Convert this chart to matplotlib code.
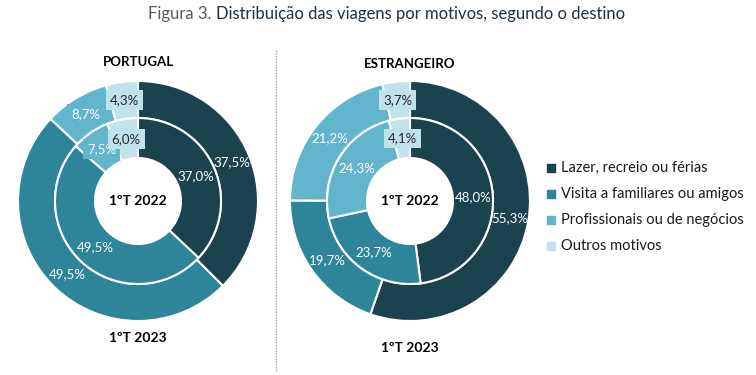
import numpy as np
import matplotlib
matplotlib.use("Agg")
import matplotlib.pyplot as plt

plt.rcParams['font.family'] = ['Lato', 'DejaVu Sans']

categorias = ["Lazer, recreio ou férias", "Visita a familiares ou amigos",
              "Profissionais ou de negócios", "Outros motivos"]
cores = ["#1b434f", "#2e8499", "#62b5cc", "#bfe2eb"]
cor_texto = ["white", "white", "white", "#262626"]

portugal_2022 = [37.0, 49.5, 7.5, 6.0]
portugal_2023 = [37.5, 49.5, 8.7, 4.3]
estrangeiro_2022 = [48.0, 23.7, 24.3, 4.1]
estrangeiro_2023 = [55.3, 19.7, 21.2, 3.7]

W, H = 756, 375
fig = plt.figure(figsize=(W / 100, H / 100), dpi=100)
ax = fig.add_axes([0, 0, 1, 1])

R_OUT, R_MID, R_IN = 120, 83, 43


def anel(vals, cx, cy, r, w):
    ax.pie(vals, radius=r, center=(cx, cy), startangle=90, counterclock=False,
           colors=cores, wedgeprops=dict(width=w, edgecolor="white", linewidth=1.5))
    fr = np.cumsum([0] + vals[:-1]) + np.array(vals) / 2
    ang = np.deg2rad(90 - fr / 100 * 360)
    rm = r - w / 2
    for v, a, c, tc in zip(vals, ang, cores, cor_texto):
        caixa = dict(boxstyle="square,pad=0.3", fc=c, ec="none") if v < 10 else None
        ax.text(cx + rm * np.cos(a), cy + rm * np.sin(a), f"{v:.1f}%".replace(".", ","),
                ha="center", va="center", fontsize=9.5, color=tc, bbox=caixa)


def donut(nome, v22, v23, cx, cy_px, y_nome, y_ano):
    cy = H - cy_px
    anel(v23, cx, cy, R_OUT, R_OUT - R_MID)
    anel(v22, cx, cy, R_MID, R_MID - R_IN)
    ax.text(cx, cy, "1ºT 2022", ha="center", va="center", fontsize=10, fontweight="bold",
            color="black")
    ax.text(cx, H - y_nome, nome, ha="center", va="center", fontsize=9.5, fontweight="bold",
            color="black")
    ax.text(cx, H - y_ano, "1ºT 2023", ha="center", va="center", fontsize=10, fontweight="bold",
            color="black")


donut("PORTUGAL", portugal_2022, portugal_2023, 138, 201, 62, 338)
donut("ESTRANGEIRO", estrangeiro_2022, estrangeiro_2023, 410, 201, 64, 348)

ax.plot([276, 276], [H - 50, H - 372], color="#a6a6a6", linestyle=(0, (1, 1)), linewidth=1)

for i, (nome, c) in enumerate(zip(categorias, cores)):
    y = H - (168 + i * 26)
    ax.scatter([551], [y], marker="s", s=40, color=c)
    ax.text(561, y, nome, ha="left", va="center", fontsize=10.5, color="#1a1a1a")

ax.set_xlim(0, W)
ax.set_ylim(0, H)
ax.set_aspect("equal")
ax.axis("off")

t1 = ax.text(148, H - 14, "Figura 3. ", ha="left", va="center", fontsize=12, color="#595959")
fig.canvas.draw()
bb = t1.get_window_extent()
x1 = ax.transData.inverted().transform((bb.x1, bb.y1))[0]
ax.text(x1, H - 14, "Distribuição das viagens por motivos, segundo o destino",
        ha="left", va="center", fontsize=12, color="#1f3142")

fig.savefig("out.png", dpi=100)
